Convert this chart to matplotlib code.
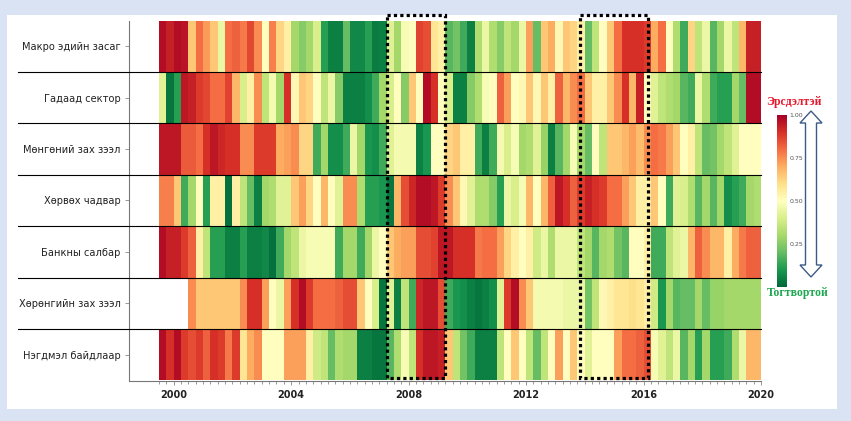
import numpy as np
import matplotlib
matplotlib.use("Agg")
import matplotlib.pyplot as plt
from matplotlib.patches import Rectangle, Polygon

# quarterly index values, 1999Q3 .. 2019Q4 (82 quarters), 0 = stable, 1 = risky
nan = np.nan
makro = [0.97, 0.93, 0.97, 0.96, 0.65, 0.8, 0.73, 0.65, 0.45, 0.8, 0.82, 0.78, 0.86, 0.75, 0.5, 0.77, 0.62, 0.55, 0.3, 0.25,
         0.3, 0.4, 0.12, 0.05, 0.05, 0.2, 0.07, 0.07, 0.12, 0.04, 0.05, 0.42, 0.3, 0.48, 0.5, 0.87, 0.85, 0.58, 0.55, 0.18,
         0.22, 0.15, 0.05, 0.32, 0.45, 0.32, 0.25, 0.35, 0.3, 0.45, 0.72, 0.2, 0.65, 0.7, 0.52, 0.65, 0.62, 0.55, 0.2, 0.35,
         0.5, 0.65, 0.8, 0.9, 0.9, 0.9, 0.88, 0.7, 0.8, 0.5, 0.32, 0.15, 0.62, 0.35, 0.45, 0.18, 0.3, 0.45, 0.35, 0.68, 0.93, 0.93]
gadaad = [0.42, 0.03, 0.12, 0.95, 0.93, 0.88, 0.86, 0.8, 0.8, 0.87, 0.68, 0.4, 0.55, 0.75, 0.35, 0.47, 0.3, 0.9, 0.52, 0.65,
          0.62, 0.5, 0.35, 0.45, 0.25, 0.05, 0.05, 0.05, 0.08, 0.15, 0.3, 0.4, 0.5, 0.25, 0.65, 0.5, 0.97, 0.9, 0.5, 0.4,
          0.05, 0.05, 0.25, 0.32, 0.48, 0.5, 0.82, 0.72, 0.5, 0.52, 0.65, 0.52, 0.65, 0.55, 0.82, 0.68, 0.75, 0.8, 0.65, 0.55,
          0.55, 0.65, 0.75, 0.9, 0.68, 0.93, 0.5, 0.42, 0.35, 0.32, 0.3, 0.18, 0.15, 0.45, 0.32, 0.15, 0.12, 0.12, 0.3, 0.2, 0.97, 0.97]
mongo = [0.95, 0.95, 0.95, 0.83, 0.83, 0.8, 0.9, 0.95, 0.92, 0.9, 0.9, 0.75, 0.75, 0.88, 0.88, 0.88, 0.7, 0.72, 0.75, 0.62,
         0.62, 0.15, 0.3, 0.08, 0.08, 0.15, 0.45, 0.3, 0.1, 0.08, 0.15, 0.42, 0.47, 0.47, 0.47, 0.05, 0.1, 0.5, 0.5, 0.62,
         0.65, 0.55, 0.55, 0.15, 0.05, 0.15, 0.47, 0.4, 0.48, 0.3, 0.32, 0.42, 0.28, 0.05, 0.18, 0.3, 0.48, 0.3, 0.2, 0.5,
         0.35, 0.65, 0.65, 0.68, 0.72, 0.67, 0.75, 0.8, 0.78, 0.72, 0.65, 0.5, 0.55, 0.35, 0.2, 0.22, 0.3, 0.35, 0.42, 0.5, 0.5, 0.5]
horvoh = [0.77, 0.77, 0.65, 0.15, 0.3, 0.5, 0.12, 0.55, 0.55, 0.02, 0.55, 0.35, 0.2, 0.05, 0.3, 0.32, 0.42, 0.42, 0.65, 0.72,
          0.62, 0.5, 0.68, 0.5, 0.42, 0.75, 0.75, 0.32, 0.12, 0.12, 0.1, 0.03, 0.68, 0.85, 0.92, 0.97, 0.97, 0.95, 0.88, 0.75,
          0.65, 0.52, 0.42, 0.32, 0.32, 0.25, 0.12, 0.45, 0.4, 0.48, 0.68, 0.5, 0.68, 0.82, 0.95, 0.9, 0.82, 0.88, 0.93, 0.9,
          0.88, 0.8, 0.8, 0.72, 0.65, 0.55, 0.55, 0.65, 0.5, 0.15, 0.42, 0.4, 0.32, 0.18, 0.3, 0.18, 0.3, 0.08, 0.12, 0.15, 0.3, 0.32]
bank = [0.97, 0.93, 0.93, 0.88, 0.82, 0.55, 0.35, 0.12, 0.12, 0.05, 0.05, 0.12, 0.05, 0.05, 0.07, 0.02, 0.15, 0.3, 0.35, 0.45,
        0.48, 0.48, 0.48, 0.48, 0.15, 0.3, 0.3, 0.15, 0.3, 0.45, 0.5, 0.65, 0.7, 0.72, 0.72, 0.85, 0.85, 0.87, 0.95, 0.95,
        0.9, 0.9, 0.9, 0.78, 0.8, 0.8, 0.72, 0.62, 0.55, 0.5, 0.55, 0.38, 0.45, 0.32, 0.45, 0.45, 0.45, 0.35, 0.3, 0.18,
        0.3, 0.32, 0.22, 0.18, 0.5, 0.5, 0.55, 0.15, 0.15, 0.35, 0.42, 0.45, 0.68, 0.82, 0.75, 0.68, 0.68, 0.55, 0.7, 0.78, 0.82, 0.82]
horongo = [nan, nan, nan, nan, 0.75, 0.65, 0.65, 0.65, 0.65, 0.65, 0.65, 0.75, 0.9, 0.9, 0.72, 0.5, 0.45, 0.72, 0.9, 0.97,
           0.88, 0.8, 0.8, 0.8, 0.82, 0.85, 0.85, 0.65, 0.5, 0.4, 0.03, 0.42, 0.05, 0.35, 0.15, 0.92, 0.95, 0.95, 0.85, 0.15,
           0.1, 0.08, 0.05, 0.03, 0.05, 0.08, 0.42, 0.88, 0.97, 0.75, 0.65, 0.47, 0.47, 0.47, 0.47, 0.45, 0.45, 0.45, 0.22, 0.35,
           0.52, 0.55, 0.58, 0.58, 0.6, 0.58, 0.55, 0.38, 0.1, 0.3, 0.18, 0.2, 0.2, 0.3, 0.2, 0.28, 0.28, 0.3, 0.3, 0.3, 0.3, 0.3]
negdmel = [0.97, 0.9, 0.97, 0.88, 0.85, 0.88, 0.82, 0.9, 0.88, 0.78, 0.88, 0.58, 0.7, 0.75, 0.5, 0.5, 0.5, 0.72, 0.72, 0.72,
           0.55, 0.38, 0.35, 0.2, 0.32, 0.3, 0.3, 0.05, 0.05, 0.03, 0.03, 0.18, 0.32, 0.48, 0.35, 0.9, 0.95, 0.95, 0.93, 0.65,
           0.35, 0.22, 0.15, 0.05, 0.05, 0.05, 0.35, 0.5, 0.65, 0.5, 0.35, 0.2, 0.35, 0.5, 0.72, 0.5, 0.65, 0.5, 0.42, 0.5,
           0.5, 0.5, 0.72, 0.8, 0.8, 0.82, 0.85, 0.48, 0.42, 0.35, 0.45, 0.18, 0.3, 0.12, 0.3, 0.12, 0.12, 0.15, 0.32, 0.45, 0.68, 0.68]

row_labels = ["Макро эдийн засаг", "Гадаад сектор", "Мөнгөний зах зээл", "Хөрвөх чадвар",
              "Банкны салбар", "Хөрөнгийн зах зээл", "Нэгдмэл байдлаар"]
start_year = 1999.5   # 1999Q3
year_ticks = [2000, 2004, 2008, 2012, 2016, 2020]
crisis_windows = [(2007.25, 2009.25), (2013.85, 2016.15)]

W, H = 851, 421
fig = plt.figure(figsize=(W / 100, H / 100), dpi=100)
fig.patch.set_facecolor("#dae3f3")
# white panel
fig.patches.append(Rectangle((7 / W, 1 - 409 / H), 830 / W, 394 / H, transform=fig.transFigure,
                             facecolor="white", edgecolor="none", zorder=-10))

ax = fig.add_axes([129 / W, 1 - 380.5 / H, 632 / W, 360 / H])
ax.set_facecolor("white")

data = np.array([makro, gadaad, mongo, horvoh, bank, horongo, negdmel])
n_q = data.shape[1]
x_edges = start_year + 0.25 * np.arange(n_q + 1)
y_edges = np.arange(len(row_labels) + 1)
mesh = ax.pcolormesh(x_edges, y_edges, np.ma.masked_invalid(data), cmap="RdYlGn_r", vmin=0, vmax=1)

ax.set_xlim(start_year - 30 / 29.32, start_year + n_q * 0.25)
ax.set_ylim(len(row_labels), 0)

# separators between rows
for k in range(1, len(row_labels)):
    ax.axhline(k, xmin=-0.1756, xmax=1, color="black", lw=0.8, clip_on=False, zorder=3)

ax.set_yticks(np.arange(len(row_labels)) + 0.5)
ax.set_yticklabels(row_labels, fontsize=7.1, color="#222222")
ax.tick_params(axis="y", length=3, width=0.6, color="#888888", pad=3)

ax.set_xticks(year_ticks)
ax.set_xticklabels([str(y) for y in year_ticks], fontsize=7, fontweight="bold", color="#222222")
ax.set_xticks(x_edges, minor=True)
ax.tick_params(axis="x", which="both", length=3, width=0.6, color="#888888")
ax.tick_params(axis="x", which="minor", length=2.5)

for s in ["top", "right"]:
    ax.spines[s].set_visible(False)
for s in ["left", "bottom"]:
    ax.spines[s].set_color("#777777")
    ax.spines[s].set_linewidth(0.8)

# dotted crisis windows
for x0, x1 in crisis_windows:
    ax.add_patch(Rectangle((x0, -0.107), x1 - x0, 7.057, fill=False, edgecolor="black",
                           lw=2.3, linestyle=(0, (1, 1)), clip_on=False, zorder=5))

# colorbar
cax = fig.add_axes([777 / W, 1 - 287 / H, 10 / W, 172 / H])
cb = fig.colorbar(mesh, cax=cax, ticks=[0.25, 0.5, 0.75, 1.0])
cb.outline.set_visible(False)
cb.ax.set_yticklabels(["0.25", "0.50", "0.75", "1.00"])
cb.ax.tick_params(labelsize=4.5, length=0, pad=2, labelcolor="#555555")

fig.text(794 / W, 1 - 102 / H, "Эрсдэлтэй", color="#e8192c", fontsize=8.5, fontweight="bold",
         family="Liberation Serif", ha="center", va="center")
fig.text(798 / W, 1 - 293 / H, "Тогтвортой", color="#1fa650", fontsize=8.5, fontweight="bold",
         family="Liberation Serif", ha="center", va="center")

# double arrow outline
cx, top, bot = 811, 111, 277
hw, sw, hh = 11, 5.5, 12
pts = [(cx, top), (cx + hw, top + hh), (cx + sw, top + hh), (cx + sw, bot - hh), (cx + hw, bot - hh),
       (cx, bot), (cx - hw, bot - hh), (cx - sw, bot - hh), (cx - sw, top + hh), (cx - hw, top + hh)]
fig.patches.append(Polygon([(px / W, 1 - py / H) for px, py in pts], closed=True, transform=fig.transFigure,
                           facecolor="white", edgecolor="#3d5a85", lw=1.0))

fig.savefig("out.png", dpi=100, facecolor=fig.get_facecolor())
